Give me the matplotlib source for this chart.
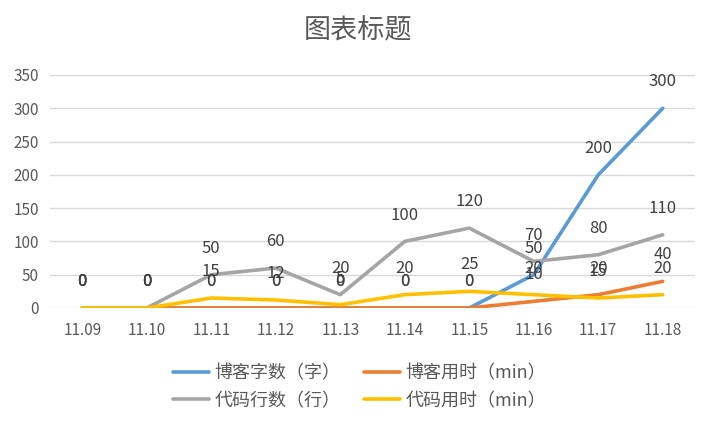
import matplotlib
matplotlib.use('Agg')
import matplotlib.pyplot as plt

plt.rcParams['font.family'] = ['Noto Sans CJK SC', 'DejaVu Sans']

dates = ['11.09', '11.10', '11.11', '11.12', '11.13', '11.14', '11.15', '11.16', '11.17', '11.18']
blog_words = [0, 0, 0, 0, 0, 0, 0, 50, 200, 300]
blog_time = [0, 0, 0, 0, 0, 0, 0, 10, 20, 40]
code_lines = [0, 0, 50, 60, 20, 100, 120, 70, 80, 110]
code_time = [0, 0, 15, 12, 5, 20, 25, 20, 15, 20]

series = [
  ('博客字数（字）', blog_words, '#5B9BD5'),
  ('博客用时（min）', blog_time, '#ED7D31'),
  ('代码行数（行）', code_lines, '#A5A5A5'),
  ('代码用时（min）', code_time, '#FFC000'),
]
text_color = '#595959'

fig = plt.figure(figsize=(7.15, 4.26), dpi=100)
ax = fig.add_axes([0.07, 0.277, 0.902, 0.547])
x = list(range(len(dates)))

lines = {}
for name, vals, color in series:
  ln, = ax.plot(x, vals, color=color, lw=2.6, solid_joinstyle='round', solid_capstyle='round', label=name, zorder=3)
  lines[name] = ln
  # Excel-style data labels sit above each point (they overlap in the original too)
  for xi, v in zip(x, vals):
    ax.annotate(str(v), (xi, v), xytext=(0, 19), textcoords='offset points',
                ha='center', va='center', fontsize=12, color='#404040', zorder=4)

ax.set_xlim(-0.5, 9.5)
ax.set_ylim(0, 350)
ax.set_yticks(range(0, 351, 50))
ax.set_xticks(x)
ax.set_xticklabels(dates)
ax.grid(axis='y', color='#D9D9D9', lw=1)
ax.set_axisbelow(True)
for s in ax.spines.values():
  s.set_visible(False)
ax.tick_params(axis='both', length=0, colors=text_color, labelsize=11)
ax.tick_params(axis='x', pad=10)
ax.tick_params(axis='y', pad=8)

fig.suptitle('图表标题', x=0.5, y=0.958, fontsize=19.5, color=text_color)

order = ['博客字数（字）', '代码行数（行）', '博客用时（min）', '代码用时（min）']
leg = fig.legend([lines[n] for n in order], order, loc='center', bbox_to_anchor=(0.503, 0.092),
                 ncol=2, frameon=False, fontsize=13, handlelength=2.0, handletextpad=0.3,
                 columnspacing=1.3, labelspacing=0.55)
for t in leg.get_texts():
  t.set_color(text_color)

fig.savefig('out.png', dpi=100)
